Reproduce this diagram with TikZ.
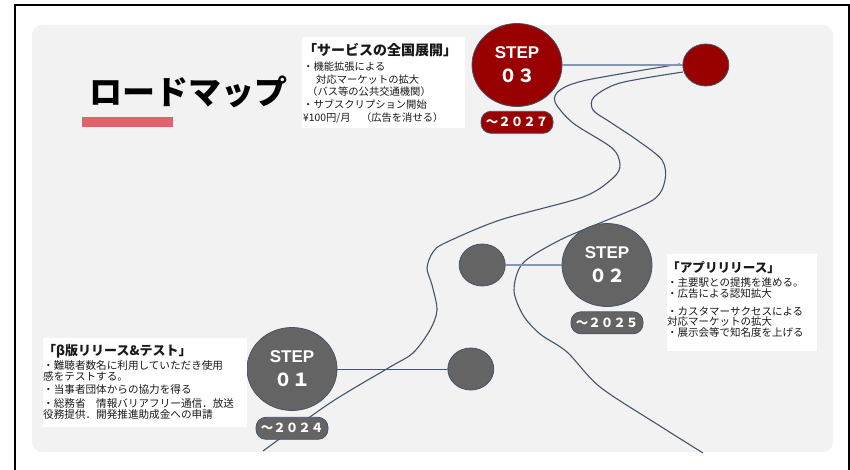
\documentclass[tikz,border=0pt]{standalone}
\usepackage{fontspec}
\setmainfont{Noto Sans CJK JP}
\setsansfont{Liberation Sans}
\usetikzlibrary{positioning, shapes.geometric}
\definecolor{panelgray}{HTML}{F2F2F2}
\definecolor{darkred}{HTML}{990000}
\definecolor{stepgray}{HTML}{646464}
\definecolor{slate}{HTML}{44546A}
\definecolor{lightslate}{HTML}{8497B0}
\definecolor{barred}{HTML}{E2616A}
\newcommand{\steptext}[1]{{\sffamily\bfseries STEP}\\{\bfseries\fontsize{18}{24}\selectfont #1}}
\newcommand{\notetitle}[2]{{\bfseries\fontsize{#1}{#1}\selectfont #2}}
\newcommand{\notefont}[2]{\fontsize{#1}{#2}\selectfont\lineskiplimit=-20pt\relax}

\begin{document}
\begin{tikzpicture}[x=1pt, y=-1pt,
    stepnode/.style={ellipse, draw=slate, line width=0.8, minimum width=90, minimum height=83, inner sep=0, text=white, align=center, font=\fontsize{17}{24}\selectfont},
    dotnode/.style={ellipse, draw=slate, line width=0.8, minimum width=46, minimum height=42, inner sep=0},
    yearnode/.style={draw=slate, line width=0.8, rounded corners=10, minimum width=72, minimum height=22, inner sep=0, text=white, font=\bfseries\fontsize{12.5}{12.5}\selectfont},
    notebox/.style={fill=white, inner sep=0},
    notetext/.style={anchor=north west, inner sep=0, align=left, text=black!90},
    road/.style={slate, line width=1.1}]
    \useasboundingbox (0,0) rectangle (850,470);
    % frame and panel
    \draw[line width=2] (15,470) -- (15,5) -- (848.5,5) -- (848.5,470);
    \fill[panelgray, rounded corners=10] (32,25) rectangle (833,452);
    \node[font=\bfseries\fontsize{33}{33}\selectfont] (title) at (188,92) {ロードマップ};
    \fill[barred] (82,117) rectangle (173,127);
    % the two edges of the road
    \draw[road] plot[smooth] coordinates {(263,451) (330,403) (390,367) (413,353) (430,330) (437,310) (432,285) (427,268) (433,252) (445,243) (500,220) (583,197) (613,178) (620,165) (612,148) (573,123) (555,102) (560,90) (587,80) (680,64)};
    \draw[road] plot[smooth] coordinates {(703,453) (660,426) (600,387) (567,352) (540,334) (523,315) (514,290) (523,263) (560,240) (600,223) (653,200) (665,180) (662,160) (637,140) (610,122) (593,110) (594,97) (620,83) (683,72)};
    % steps
    \node[stepnode, fill=darkred] (s3) at (517,65) {\steptext{０３}};
    \node[stepnode, fill=stepgray] (s2) at (607,265) {\steptext{０２}};
    \node[stepnode, fill=stepgray] (s1) at (292,369) {\steptext{０１}};
    \node[dotnode, fill=darkred, right=120pt of s3] (d3) {};
    \node[dotnode, fill=stepgray, left=56pt of s2] (d2) {};
    \node[dotnode, fill=stepgray, right=110pt of s1] (d1) {};
    \draw[lightslate, line width=1.6] (s3) -- (d3);
    \draw[lightslate, line width=1.2] (d2) -- (s2);
    \draw[slate, line width=1] (s1) -- (d1);
    \node[yearnode, fill=darkred, below=4pt of s3] (y3) {～２０２７};
    \node[yearnode, fill=stepgray, below=4.5pt of s2] (y2) {～２０２５};
    \node[yearnode, fill=stepgray, below=6pt of s1] (y1) {～２０２４};
    % notes
    \node[notebox, minimum width=163, minimum height=91] (box3) at (383.5,82.5) {};
    \node[notetext, font=\notefont{10.3}{12.8}] (note3) at (303,43) {%
        \notetitle{14}{「サービスの全国展開」}\\[2pt]
        ・機能拡張による\\
        \hspace{13pt}対応マーケットの拡大\\
        \hspace{4pt}（バス等の公共交通機関）\\
        ・サブスクリプション開始\\
        ¥100円/月　（広告を消せる）};
    \node[notebox, minimum width=150, minimum height=97] (box2) at (742,302.5) {};
    \node[notetext, font=\notefont{10.5}{10.8}] (note2) at (667,261) {%
        \notetitle{12.6}{「アプリリリース」}\\[4pt]
        ・主要駅との提携を進める。\\
        ・広告による認知拡大\\[6.5pt]
        ・カスタマーサクセスによる\\
        対応マーケットの拡大\\
        ・展示会等で知名度を上げる};
    \node[notebox, minimum width=204, minimum height=89] (box1) at (145,382.5) {};
    \node[notetext, font=\notefont{10.6}{10.4}] (note1) at (43,344) {%
        \notetitle{13}{「β版リリース\&テスト」}\\[4.1pt]
        ・難聴者数名に利用していただき使用\\
        感をテストする。\\[3.1pt]
        ・当事者団体からの協力を得る\\[3.6pt]
        ・総務省　情報バリアフリー通信．放送\\
        役務提供．開発推進助成金への申請};
\end{tikzpicture}
\end{document}
